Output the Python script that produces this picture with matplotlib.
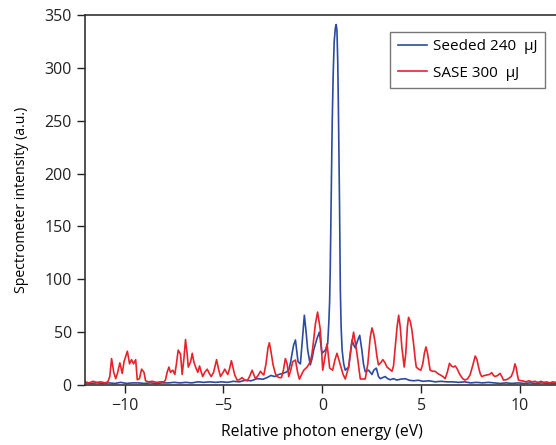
import matplotlib
matplotlib.use("Agg")
import matplotlib.pyplot as plt

# SASE 300 uJ spectrum (red)
sase_x = [-12.0, -11.8, -11.6, -11.4, -11.2, -11.0, -10.85, -10.75, -10.66, -10.55,
          -10.45, -10.35, -10.24, -10.12, -10.03, -9.98, -9.86, -9.75, -9.65, -9.55,
          -9.44, -9.36, -9.25, -9.14, -9.02, -8.94, -8.8, -8.6, -8.4, -8.2,
          -8.0, -7.93, -7.85, -7.76, -7.68, -7.56, -7.46, -7.38, -7.29, -7.17,
          -7.09, -7.0, -6.92, -6.84, -6.78, -6.66, -6.58, -6.5, -6.41, -6.3,
          -6.21, -6.12, -6.05, -5.95, -5.82, -5.72, -5.62, -5.5, -5.35, -5.25,
          -5.15, -5.05, -4.93, -4.85, -4.78, -4.7, -4.6, -4.5, -4.43, -4.31,
          -4.2, -4.06, -3.95, -3.8, -3.68, -3.55, -3.45, -3.38, -3.25, -3.13,
          -3.05, -2.96, -2.85, -2.75, -2.68, -2.6, -2.49, -2.38, -2.29, -2.18,
          -2.07, -1.97, -1.87, -1.78, -1.7, -1.6, -1.5, -1.36, -1.25, -1.16,
          -1.05, -0.94, -0.77, -0.61, -0.52, -0.44, -0.35, -0.24, -0.1, 0.02,
          0.12, 0.24, 0.37, 0.52, 0.64, 0.74, 0.91, 1.05, 1.16, 1.33,
          1.45, 1.58, 1.75, 1.92, 2.17, 2.3, 2.42, 2.51, 2.6, 2.68,
          2.76, 2.84, 2.95, 3.06, 3.17, 3.27, 3.4, 3.52, 3.6, 3.69,
          3.78, 3.86, 3.94, 4.02, 4.14, 4.22, 4.3, 4.36, 4.45, 4.53,
          4.62, 4.7, 4.75, 4.87, 4.98, 5.08, 5.16, 5.24, 5.32, 5.45,
          5.58, 5.7, 5.83, 5.96, 6.1, 6.21, 6.32, 6.43, 6.53, 6.63,
          6.72, 6.8, 6.9, 6.97, 7.1, 7.22, 7.35, 7.47, 7.6, 7.73,
          7.82, 7.9, 7.98, 8.06, 8.2, 8.32, 8.45, 8.57, 8.66, 8.74,
          8.86, 8.99, 9.08, 9.16, 9.3, 9.41, 9.55, 9.66, 9.74, 9.8,
          9.86, 9.92, 10.05, 10.17, 10.3, 10.45, 10.6, 10.75, 10.9, 11.05,
          11.2, 11.35, 11.5, 11.65, 11.8, 12.0]
sase_y = [3, 2, 3.5, 2.5, 3, 2, 3, 8, 25, 12,
          6, 12, 21, 11, 22, 25, 32, 20, 24, 20,
          24, 5, 6, 15, 12, 4, 3, 3.5, 2.5, 3,
          3, 5, 12, 17, 12, 14, 10, 20, 33, 29,
          10, 25, 43, 30, 17, 22, 30, 22, 17, 12,
          18, 12, 8, 12, 15, 11, 8, 12, 24, 15,
          8, 11, 15, 12, 10, 15, 23, 15, 9.5, 4.7,
          5, 7, 5, 4, 8, 14, 9, 6, 9, 13,
          11, 9.5, 20, 35, 40, 32, 19, 11, 8, 7,
          7, 14, 25, 20, 8, 14, 22, 23.6, 12, 5.5,
          10, 14, 17, 22, 30, 42.6, 58, 69, 52, 14,
          25, 39, 16, 14, 24, 30, 19, 10, 5.7, 17,
          35, 50, 30, 5.7, 5.7, 20, 45, 54, 48, 39,
          27, 19, 21, 24, 21, 17, 15, 13, 18, 36,
          55, 66, 55, 36, 17, 30, 55, 64, 60, 52,
          38, 24, 17, 15, 14, 20, 30, 36, 30, 14,
          13, 13, 11, 9.5, 8, 6, 12, 20.5, 18, 17,
          18, 16, 12, 9.5, 6, 4.7, 6, 9.5, 18, 27.4,
          24, 17, 11, 8, 9, 9.5, 10, 11.6, 9, 8,
          9, 11, 8, 4.7, 5, 6, 8, 13, 20, 16.7,
          10, 4.7, 4, 3.7, 3, 4, 3, 3.5, 2.5, 3.5,
          2.5, 3, 2, 3, 2.5, 2]

# Seeded 240 uJ spectrum (blue)
seed_x = [-12.0, -11.7, -11.4, -11.1, -10.8, -10.5, -10.2, -9.9, -9.6, -9.3,
          -9.0, -8.7, -8.4, -8.1, -7.8, -7.5, -7.2, -6.9, -6.6, -6.3,
          -6.0, -5.7, -5.4, -5.1, -4.8, -4.5, -4.2, -3.9, -3.6, -3.3,
          -3.0, -2.8, -2.6, -2.4, -2.2, -2.0, -1.85, -1.7, -1.6, -1.53,
          -1.45, -1.36, -1.23, -1.11, -1.0, -0.91, -0.82, -0.74, -0.61, -0.52,
          -0.44, -0.27, -0.15, -0.02, 0.15, 0.27, 0.33, 0.37, 0.4, 0.45,
          0.5, 0.55, 0.6, 0.66, 0.7, 0.74, 0.78, 0.82, 0.87, 0.91,
          0.95, 1.0, 1.08, 1.16, 1.33, 1.42, 1.5, 1.58, 1.67, 1.78,
          1.89, 2.0, 2.08, 2.17, 2.34, 2.51, 2.6, 2.73, 2.84, 2.93,
          3.05, 3.18, 3.3, 3.43, 3.6, 3.77, 3.95, 4.19, 4.4, 4.61,
          4.85, 5.1, 5.4, 5.7, 6.0, 6.3, 6.6, 6.9, 7.2, 7.5,
          7.8, 8.1, 8.4, 8.7, 9.0, 9.3, 9.6, 9.9, 10.2, 10.5,
          10.8, 11.1, 11.4, 11.7, 12.0]
seed_y = [2, 1.5, 2, 1.5, 2, 1.5, 2.5, 1.5, 2, 2,
          1.5, 2, 1.5, 2, 2, 2.5, 2, 2.5, 2, 3,
          2.5, 3, 2.5, 3, 2.5, 3.5, 3, 4.5, 4, 6,
          5.5, 7, 9, 8, 10, 11, 12, 14, 22, 30,
          38, 42.6, 22, 20, 45, 66, 50, 33, 19, 25,
          33, 44, 50, 30, 33, 39, 60, 80, 110, 180,
          250, 295, 325, 338, 341, 335, 305, 250, 170, 90,
          55, 33, 20, 14, 17, 30, 42.6, 38, 35, 42,
          47, 33, 20, 12.6, 14, 10, 14, 16, 8, 6,
          7, 8, 6, 5, 6, 4.7, 5.5, 6, 4.5, 4,
          4.5, 3.5, 4, 3, 3.5, 3, 3, 2.5, 3, 2,
          2.5, 2, 2.5, 2, 1.5, 2, 1.5, 2, 1.5, 2,
          1.5, 2, 1.5, 1.5, 1]

x_ticks = [-10, -5, 0, 5, 10]
x_ticklabels = ["\u221210", "\u22125", "0", "5", "10"]
y_ticks = [0, 50, 100, 150, 200, 250, 300, 350]

plt.rcParams["font.family"] = ["Open Sans", "DejaVu Sans"]

fig = plt.figure(figsize=(5.56, 4.45), dpi=100)
ax = fig.add_axes([0.153, 0.1348, 0.8535, 0.8315])

ax.plot(seed_x, seed_y, color="#2c4ba0", lw=1.2, label="Seeded 240  \u03bcJ")
ax.plot(sase_x, sase_y, color="#e8222b", lw=1.2, label="SASE 300  \u03bcJ")

ax.set_xlim(-12, 12)
ax.set_ylim(0, 350)
ax.set_xticks(x_ticks)
ax.set_xticklabels(x_ticklabels)
ax.set_yticks(y_ticks)
ax.tick_params(direction="out", length=6, width=1, colors="#222222", labelsize=11.5)
for s in ax.spines.values():
    s.set_linewidth(1.2)
    s.set_color("#333333")
ax.spines["right"].set_visible(False)

ax.set_xlabel("Relative photon energy (eV)", fontsize=11.3, labelpad=7)
ax.set_ylabel("Spectrometer intensity (a.u.)", fontsize=10.2, labelpad=11)

leg = ax.legend(loc="upper right", bbox_to_anchor=(0.98, 0.929),
                bbox_transform=fig.transFigure, fancybox=False,
                edgecolor="#777777", framealpha=1, fontsize=11,
                handlelength=1.9, handletextpad=0.4, borderpad=0.5,
                labelspacing=0.75, borderaxespad=0)
leg.get_frame().set_linewidth(1.0)

fig.savefig("out.png", dpi=100)
